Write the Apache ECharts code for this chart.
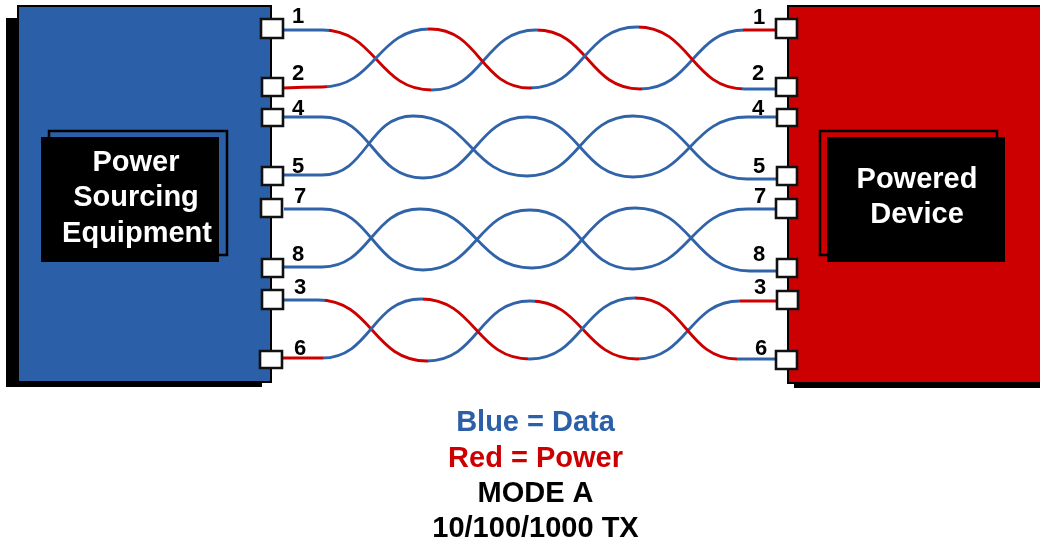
<!DOCTYPE html>
<html><head><meta charset="utf-8">
<style>html,body{margin:0;padding:0;background:#fff}#c{width:1040px;height:543px}</style>
<script src="https://cdn.jsdelivr.net/npm/echarts@6/dist/echarts.min.js"></script>
</head><body><div id="c"></div>
<script>
const BLUE='#2b5fa8', RED='#cc0000', WIRE_BLUE='#3163a9', BLACK='#000', WHITE='#fff';

// Wires: turning points
const wire1=[[284,30],[322,30],[432,90],[536,30],[640,89],[745,30],[776,30]];
const wire2=[[284,88],[322,87],[430,29],[530,88],[637,27],[745,89],[776,89]];
const wire4=[[284,117],[322,117],[423,178],[527,117],[633,177],[747,117],[776,117]];
const wire5=[[284,175],[322,175],[413,116],[527,176],[633,116],[747,179],[776,179]];
const wire7=[[284,209],[322,209],[423,270],[530,210],[633,269],[747,209],[776,209]];
const wire8=[[284,267],[322,267],[420,209],[532,268],[635,208],[750,271],[776,271]];
const wire3=[[284,300],[318,300],[427,361],[530,301],[637,359],[740,301],[776,301]];
const wire6=[[283,358],[322,358],[421,299],[530,359],[635,298],[737,359],[776,359]];

// x positions where the colour changes, with the first colour of each wire
const wireNames=['1','2','4','5','7','8','3','6'];
const wires=[wire1,wire2,wire4,wire5,wire7,wire8,wire3,wire6];
const breaks1=[329,431,538,642,743];
const breaks2=[327,428,532,639,742];
const breaks3=[325,428,535,639,740];
const breaks6=[323,423,528,635,737];
const wireBreaks=[breaks1,breaks2,[],[],[],[],breaks3,breaks6];
const wireStart=['b','r','b','b','b','b','b','r'];

// Boxes: x0,y0,x1,y1
const shadowBoxes=[[6,18,262,387],[794,20,1045,388]];
const plateLeft=[18,6,271,382];
const plateRight=[788,6,1045,383];
const outlineBoxes=[[49,131,227,255],[820,131,997,255]];
const labelBoxes=[[41,137,219,262],[827,137,1005,262]];

// Pin squares: x0,y0,x1,y1
const pinSquares=[
 [261,19,283,38],[262,78,283,96],[262,109,283,126],[262,167,283,185],
 [261,199,282,217],[262,259,283,277],[262,290,283,309],[260,351,282,368],
 [776,19,797,38],[776,78,797,96],[777,109,797,126],[777,167,797,185],
 [776,199,797,218],[777,259,797,277],[777,291,798,309],[776,351,797,369]
];
// Pin numbers: text,x,y
const pinLabels=[
 ['1',298,17],['2',298,74],['4',298,109],['5',298,167],['7',300,197],['8',298,255],['3',300,288],['6',300,349],
 ['1',759,18],['2',758,74],['4',758,109],['5',759,167],['7',760,197],['8',759,255],['3',760,288],['6',761,349]
];
// Captions: text,x,y
const boxTexts=[['Power',136,163],['Sourcing',136,198],['Equipment',137,234],['Powered',917,180],['Device',917,215]];
const noteTexts=[['Blue = Data',535.5,423],['Red = Power',535.5,459],['MODE A',535.5,494],['10/100/1000 TX',535.5,529]];
const noteColors=[BLUE,RED,BLACK,BLACK];

const FONT='"Liberation Sans", Arial, sans-serif';

function rectSeries(name,data,style,z){
  return {type:'custom',name,coordinateSystem:'cartesian2d',z,silent:true,clip:false,
    encode:{x:[0,2],y:[1,3]},data,
    renderItem(p,api){
      const a=api.coord([api.value(0),api.value(1)]),b=api.coord([api.value(2),api.value(3)]);
      return {type:'rect',shape:{x:a[0],y:a[1],width:b[0]-a[0],height:b[1]-a[1]},style};
    }};
}
function textSeries(name,data,size,colorOf,z){
  return {type:'custom',name,coordinateSystem:'cartesian2d',z,silent:true,clip:false,
    encode:{x:1,y:2},data,
    renderItem(p,api){
      const a=api.coord([api.value(1),api.value(2)]);
      return {type:'text',x:a[0],y:a[1],style:{text:data[p.dataIndex][0],fill:colorOf(p.dataIndex),
        font:'bold '+size+'px '+FONT,align:'center',verticalAlign:'middle'}};
    }};
}

const wireSeries=wires.map((d,i)=>({type:'line',name:'Pin '+wireNames[i],data:d,smooth:0.5,smoothMonotone:'x',
  showSymbol:false,symbol:'none',z:3,silent:true,
  lineStyle:wireBreaks[i].length?{width:2.8}:{width:2.8,color:WIRE_BLUE}}));

const visualMaps=[];
wireBreaks.forEach((b,i)=>{
  if(!b.length) return;
  const edges=[0,...b,1040];
  let isBlue=wireStart[i]==='b';
  const pieces=[];
  for(let k=0;k<edges.length-1;k++){
    pieces.push({min:edges[k],max:edges[k+1],color:isBlue?WIRE_BLUE:RED});
    isBlue=!isBlue;
  }
  visualMaps.push({type:'piecewise',show:false,dimension:0,seriesIndex:i,pieces});
});

const series=[
  ...wireSeries,
  rectSeries('shadow',shadowBoxes,{fill:BLACK},1),
  rectSeries('pse',[plateLeft],{fill:BLUE,stroke:BLACK,lineWidth:2},2),
  rectSeries('pd',[plateRight],{fill:RED,stroke:BLACK,lineWidth:2},2),
  rectSeries('outline',outlineBoxes,{fill:'transparent',stroke:BLACK,lineWidth:2.5},4),
  rectSeries('label',labelBoxes,{fill:BLACK},5),
  rectSeries('pins',pinSquares,{fill:WHITE,stroke:'#111',lineWidth:2.6},6),
  textSeries('pinLabels',pinLabels,22,()=>BLACK,7),
  textSeries('boxTexts',boxTexts,29,()=>WHITE,7),
  textSeries('notes',noteTexts,29,i=>noteColors[i],7)
];

const chart=echarts.init(document.getElementById('c'),null,{width:1040,height:543});
chart.setOption({
  animation:false,backgroundColor:'#fff',
  grid:{left:0,right:0,top:0,bottom:0},
  xAxis:{type:'value',min:0,max:1040,show:false},
  yAxis:{type:'value',min:0,max:543,inverse:true,show:false},
  tooltip:{show:false},
  visualMap:visualMaps,
  series
});
</script></body></html>
